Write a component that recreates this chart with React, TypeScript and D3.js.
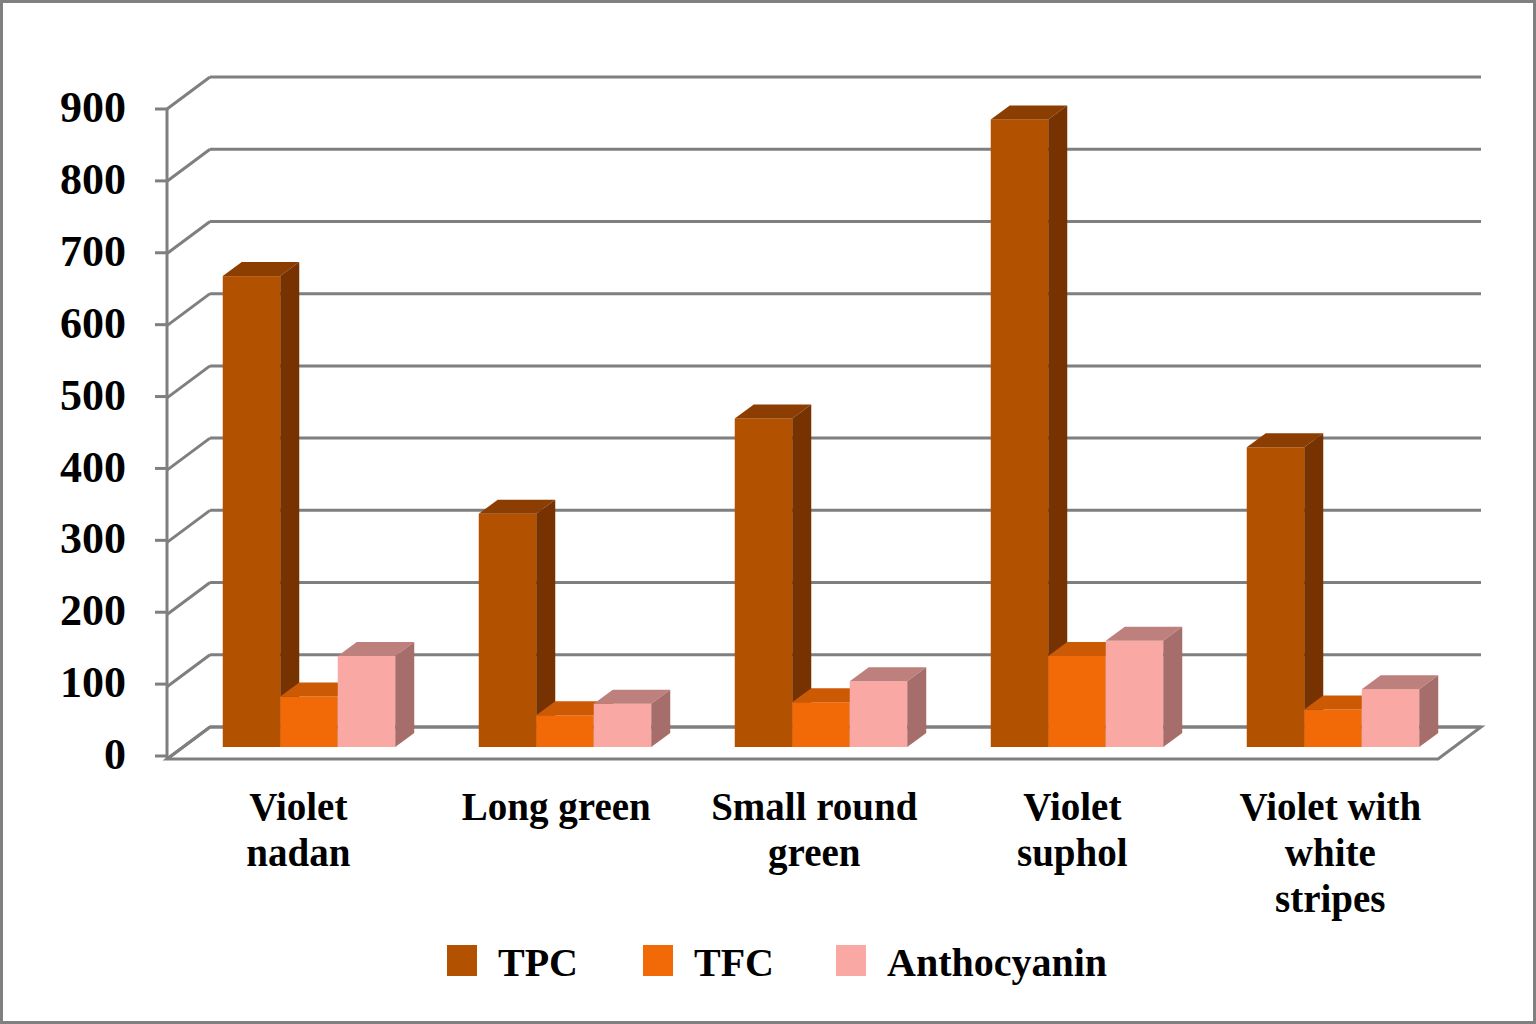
import React from "react";
import * as d3 from "d3";

const categories: string[][] = [
  ["Violet", "nadan"],
  ["Long green"],
  ["Small round", "green"],
  ["Violet", "suphol"],
  ["Violet with", "white", "stripes"],
];
const seriesNames = ["TPC", "TFC", "Anthocyanin"];
const tpc = [652, 323, 455, 869, 415];
const tfc = [70, 44, 62, 126, 52];
const anthocyanin = [126, 60, 91, 147, 80];
const yTicks = [0, 100, 200, 300, 400, 500, 600, 700, 800, 900];

const seriesValues = [tpc, tfc, anthocyanin];
const faceColors = [
  { front: "#B25100", top: "#8C3E02", side: "#763200" },
  { front: "#F26A07", top: "#CC5A04", side: "#A84A04" },
  { front: "#F9A8A3", top: "#BE807C", side: "#A66E6A" },
];

const W = 1536;
const H = 1024;
const FX0 = 167;
const FX1 = 1438;
const WALL_DX = 43;
const WALL_DY = -32;
const BAR_DX = 19;
const BAR_DY = -14;
const BAR_OY = -12;

export default function App() {
  const yFront = d3.scaleLinear().domain([0, 900]).range([759, 109]);
  const yTick = d3.scaleLinear().domain([0, 900]).range([756, 109]);
  const yBar = (v: number) => yFront(v) + BAR_OY;
  const idx = categories.map((_, i) => String(i));
  const xGroup = d3.scaleBand<string>().domain(idx).range([181, 1461]).padding(0);
  const groupW = 172.5;
  const xSeries = d3
    .scaleBand<string>()
    .domain(seriesNames)
    .range([(xGroup.bandwidth() - groupW) / 2, (xGroup.bandwidth() + groupW) / 2])
    .padding(0);
  const xLabel = d3.scaleBand<string>().domain(idx).range([169.3, 1459.3]);

  const grid = "#7F7F7F";
  const bars: React.ReactNode[] = [];
  categories.forEach((_, ci) => {
    seriesNames.forEach((s, si) => {
      const v = seriesValues[si][ci];
      const x0 = (xGroup(String(ci)) || 0) + (xSeries(s) || 0);
      const x1 = x0 + xSeries.bandwidth();
      const yt = yBar(v);
      const yb = yBar(0);
      const c = faceColors[si];
      bars.push(
        <g key={`${ci}-${si}`}>
          <rect x={x0} y={yt} width={x1 - x0} height={yb - yt} fill={c.front} />
          <polygon
            points={`${x0},${yt} ${x1},${yt} ${x1 + BAR_DX},${yt + BAR_DY} ${x0 + BAR_DX},${yt + BAR_DY}`}
            fill={c.top}
          />
          <polygon
            points={`${x1},${yt} ${x1 + BAR_DX},${yt + BAR_DY} ${x1 + BAR_DX},${yb + BAR_DY} ${x1},${yb}`}
            fill={c.side}
          />
        </g>
      );
    });
  });

  const legendX = [447, 643, 836];
  const font = "'Liberation Serif', 'Times New Roman', serif";

  return (
    <div style={{ position: "absolute", left: 0, top: 0 }}>
      <svg width={W} height={H} style={{ display: "block", background: "#FFFFFF" }}>
        <rect x={1.5} y={1.5} width={W - 3} height={H - 3} fill="#FFFFFF" stroke="#808080" strokeWidth={3} />
        {/* floor */}
        <polygon
          points={`${FX0},${yFront(0)} ${FX1},${yFront(0)} ${FX1 + WALL_DX},${yFront(0) + WALL_DY} ${FX0 + WALL_DX},${yFront(0) + WALL_DY}`}
          fill="#FFFFFF"
          stroke={grid}
          strokeWidth={3}
          strokeLinejoin="miter"
        />
        {/* back wall gridlines + side diagonals */}
        {yTicks.map((t) => (
          <g key={t}>
            <line
              x1={FX0 + WALL_DX}
              x2={FX1 + WALL_DX}
              y1={yFront(t) + WALL_DY}
              y2={yFront(t) + WALL_DY}
              stroke={grid}
              strokeWidth={3}
            />
            <line
              x1={FX0}
              y1={yFront(t)}
              x2={FX0 + WALL_DX}
              y2={yFront(t) + WALL_DY}
              stroke={grid}
              strokeWidth={3}
            />
            <line x1={FX0 - 12} x2={FX0} y1={yTick(t)} y2={yTick(t)} stroke={grid} strokeWidth={3} />
            <text
              x={126}
              y={yTick(t) + 3}
              textAnchor="end"
              dominantBaseline="middle"
              fontFamily={font}
              fontWeight="bold"
              fontSize={44}
              fill="#000000"
            >
              {t}
            </text>
          </g>
        ))}
        <line x1={FX0} x2={FX0} y1={yFront(900)} y2={yFront(0)} stroke={grid} strokeWidth={3} />
        {bars}
        {/* category labels */}
        {categories.map((lines, ci) => (
          <text
            key={ci}
            x={(xLabel(String(ci)) || 0) + xLabel.bandwidth() / 2}
            y={820}
            textAnchor="middle"
            fontFamily={font}
            fontWeight="bold"
            fontSize={39}
            fill="#000000"
          >
            {lines.map((l, li) => (
              <tspan key={li} x={(xLabel(String(ci)) || 0) + xLabel.bandwidth() / 2} dy={li === 0 ? 0 : 46}>
                {l}
              </tspan>
            ))}
          </text>
        ))}
        {/* legend */}
        {seriesNames.map((s, si) => (
          <g key={s}>
            <rect x={legendX[si]} y={945} width={30} height={31} fill={faceColors[si].front} />
            <text
              x={legendX[si] + 51}
              y={976}
              fontFamily={font}
              fontWeight="bold"
              fontSize={40}
              fill="#000000"
            >
              {s}
            </text>
          </g>
        ))}
      </svg>
    </div>
  );
}
